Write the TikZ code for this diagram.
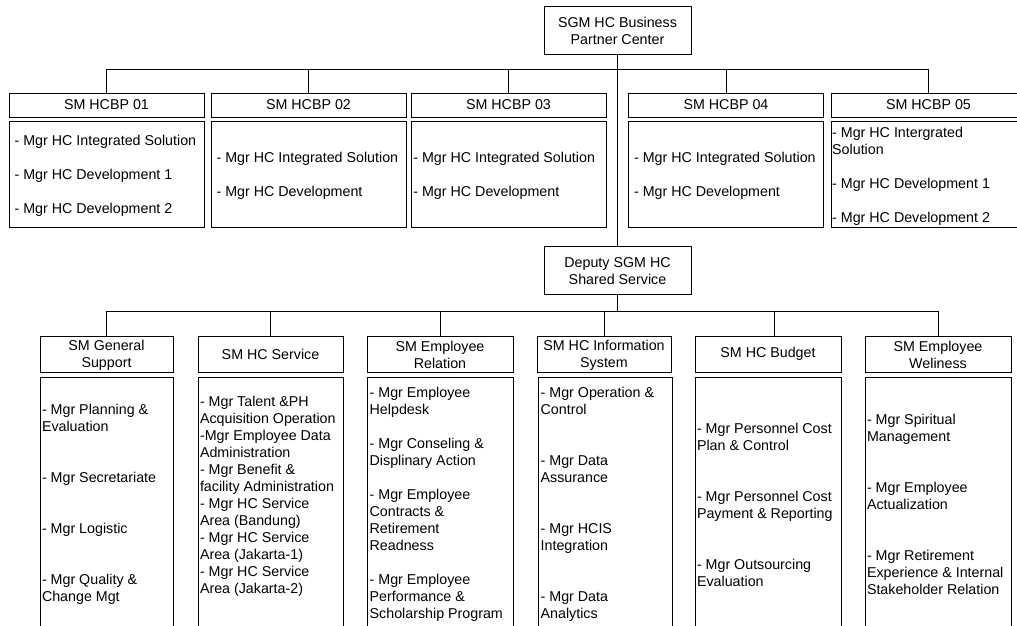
\documentclass[tikz,border=0pt]{standalone}
\usepackage{fontspec}
\setmainfont{Liberation Sans}
\begin{document}
\begin{tikzpicture}[x=0.75pt,y=-0.75pt,
  every node/.style={font=\fontsize{10.7pt}{12.75pt}\selectfont, text=black},
  box/.style={draw=black, line width=0.75pt, inner sep=0pt, outer sep=0pt},
  txt/.style={inner sep=0pt, outer sep=0pt, anchor=west, align=left, yshift=-1.5pt},
  ctxt/.style={inner sep=0pt, outer sep=0pt, align=center, yshift=-0.75pt},
  conn/.style={draw=black, line width=0.75pt}]
\useasboundingbox (0,0) rectangle (1017,625);
\clip (0,0) rectangle (1017,625);

% top level
\node[box, minimum width=110.25pt, minimum height=36pt] (sgm) at (617.5,30) {};
\node[ctxt] (tsgm) at (sgm.center) {SGM HC Business\\Partner Center};
\node[box, minimum width=110.25pt, minimum height=36pt] (dep) at (617.5,270) {};
\node[ctxt] (tdep) at (dep.center) {Deputy SGM HC\\Shared Service};

% HCBP headers
\node[box, minimum width=146.25pt, minimum height=18pt] (h1) at (106.5,105) {SM HCBP 01};
\node[box, minimum width=146.25pt, minimum height=18pt] (h2) at (308.5,105) {SM HCBP 02};
\node[box, minimum width=146.25pt, minimum height=18pt] (h3) at (508.5,105) {SM HCBP 03};
\node[box, minimum width=146.25pt, minimum height=18pt] (h4) at (726,105) {SM HCBP 04};
\node[box, minimum width=146.25pt, minimum height=18pt] (h5) at (928.5,105) {SM HCBP 05};

% HCBP contents
\node[box, minimum width=146.25pt, minimum height=79.5pt] (c1) at (106.5,174) {};
\node[box, minimum width=146.25pt, minimum height=79.5pt] (c2) at (308.5,174) {};
\node[box, minimum width=146.25pt, minimum height=79.5pt] (c3) at (508.5,174) {};
\node[box, minimum width=146.25pt, minimum height=79.5pt] (c4) at (726,174) {};
\node[box, minimum width=146.25pt, minimum height=79.5pt] (c5) at (928.5,174) {};

\node[txt] (tc1) at ([xshift=4.2pt]c1.west) {- Mgr HC Integrated Solution\\[12.75pt]- Mgr HC Development 1\\[12.75pt]- Mgr HC Development 2};
\node[txt] (tc2) at ([xshift=4.2pt]c2.west) {- Mgr HC Integrated Solution\\[12.75pt]- Mgr HC Development};
\node[txt] (tc3) at ([xshift=1.8pt]c3.west) {- Mgr HC Integrated Solution\\[12.75pt]- Mgr HC Development};
\node[txt] (tc4) at ([xshift=4.2pt]c4.west) {- Mgr HC Integrated Solution\\[12.75pt]- Mgr HC Development};
\node[txt] (tc5) at ([xshift=0.9pt]c5.west) {- Mgr HC Intergrated\\Solution\\[12.75pt]- Mgr HC Development 1\\[12.75pt]- Mgr HC Development 2};

% lower headers
\node[box, minimum width=99.75pt, minimum height=27pt] (g) at (106.5,354) {};
\node[ctxt] (tg) at (g.center) {SM General\\Support};
\node[box, minimum width=108.75pt, minimum height=27pt] (srv) at (270.5,354) {SM HC Service};
\node[box, minimum width=109.5pt, minimum height=27pt] (rel) at (440,354) {};
\node[ctxt] (trel) at (rel.center) {SM Employee\\Relation};
\node[box, minimum width=100.5pt, minimum height=27pt] (inf) at (604,354) {};
\node[ctxt] (tinf) at (inf.center) {SM HC Information\\System};
\node[box, minimum width=109.5pt, minimum height=27pt] (bud) at (768,354) {SM HC Budget};
\node[box, minimum width=109.5pt, minimum height=27pt] (wel) at (938,354) {};
\node[ctxt] (twel) at (wel.center) {SM Employee\\Weliness};

% lower contents
\node[box, minimum width=99.75pt, minimum height=188.25pt] (gc) at (106.5,502.5) {};
\node[box, minimum width=108.75pt, minimum height=188.25pt] (srvc) at (270.5,502.5) {};
\node[box, minimum width=109.5pt, minimum height=188.25pt] (relc) at (440,502.5) {};
\node[box, minimum width=100.5pt, minimum height=188.25pt] (infc) at (605,502.5) {};
\node[box, minimum width=109.5pt, minimum height=188.25pt] (budc) at (768,502.5) {};
\node[box, minimum width=109.5pt, minimum height=188.25pt] (welc) at (938,502.5) {};

\node[txt] (tgc) at ([xshift=1.5pt]gc.west) {- Mgr Planning \&\\Evaluation\\[25.5pt]- Mgr Secretariate\\[25.5pt]- Mgr Logistic\\[25.5pt]- Mgr Quality \&\\Change Mgt};
\node[txt, yshift=6.2pt] (tsrvc) at ([xshift=1.5pt]srvc.west) {- Mgr Talent \&PH\\Acquisition Operation\\-Mgr Employee Data\\Administration\\- Mgr Benefit \&\\facility Administration\\- Mgr HC Service\\Area (Bandung)\\- Mgr HC Service\\Area (Jakarta-1)\\- Mgr HC Service\\Area (Jakarta-2)};
\node[txt] (trelc) at ([xshift=2pt]relc.west) {- Mgr Employee\\Helpdesk\\[12.75pt]- Mgr Conseling \&\\Displinary Action\\[12.75pt]- Mgr Employee\\Contracts \&\\Retirement\\Readness\\[12.75pt]- Mgr Employee\\Performance \&\\Scholarship Program};
\node[txt] (tinfc) at ([xshift=2pt]infc.west) {- Mgr Operation \&\\Control\\[25.5pt]- Mgr Data\\Assurance\\[25.5pt]- Mgr HCIS\\Integration\\[25.5pt]- Mgr Data\\Analytics};
\node[txt] (tbudc) at ([xshift=1.5pt]budc.west) {- Mgr Personnel Cost\\Plan \& Control\\[25.5pt]- Mgr Personnel Cost\\Payment \& Reporting\\[25.5pt]- Mgr Outsourcing\\Evaluation};
\node[txt] (twelc) at ([xshift=1.5pt]welc.west) {- Mgr Spiritual\\Management\\[25.5pt]- Mgr Employee\\Actualization\\[25.5pt]- Mgr Retirement\\Experience \& Internal\\Stakeholder Relation};

% connectors
\coordinate (b1) at (617.5,69);
\coordinate (b2) at (617.5,311);
\draw[conn] (sgm.south) -- (dep.north);
\draw[conn] (b1) -| (h1.north);
\draw[conn] (b1) -| (h2.north);
\draw[conn] (b1) -| (h3.north);
\draw[conn] (b1) -| (h4.north);
\draw[conn] (b1) -| (h5.north);
\draw[conn] (dep.south) -- (b2);
\draw[conn] (b2) -| (g.north);
\draw[conn] (b2) -| (srv.north);
\draw[conn] (b2) -| (rel.north);
\draw[conn] (b2) -| (inf.north);
\draw[conn] (b2) -| ([xshift=4.5pt]bud.north);
\draw[conn] (b2) -| (wel.north);
\end{tikzpicture}
\end{document}
